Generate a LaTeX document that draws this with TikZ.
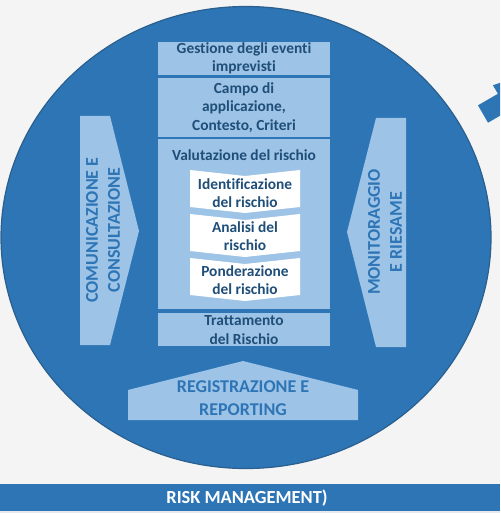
\documentclass[tikz,border=0pt]{standalone}
\usepackage{fontspec}
\setmainfont{Carlito}[Ligatures={NoCommon}]
\usetikzlibrary{positioning}
\definecolor{cerchio}{HTML}{2E75B6}
\definecolor{bordo}{HTML}{2A5F8E}
\definecolor{chiaro}{HTML}{9DC3E6}
\definecolor{scuro}{HTML}{1F4E79}
\definecolor{sfondo}{HTML}{F4F4F4}
\definecolor{striscia}{HTML}{E6E9ED}
\begin{document}
\begin{tikzpicture}[x=0.5pt, y=-0.5pt,
    box/.style={fill=chiaro},
    fase/.style={fill=white},
    boxtext/.style={text=scuro, font=\bfseries\fontsize{7.7}{9.2}\selectfont, align=center, inner sep=0pt},
    sidetext/.style={text=cerchio, font=\bfseries\fontsize{9}{11}\selectfont, align=center, inner sep=0pt}]
    \useasboundingbox (0,0) rectangle (500,513);
    \fill[sfondo] (0,0) rectangle (500,513);
    \begin{scope}
        \clip (0,0) rectangle (500,513);
        % freccia tagliata in alto a destra
        \fill[cerchio] (478,105.3) -- (497.9,93.8) -- (492.9,85.2) -- (527,74)
            -- (512.9,119.8) -- (507.9,111.2) -- (488,122.7) -- cycle;
    \end{scope}
    \filldraw[fill=cerchio, draw=bordo, line width=0.6pt] (246,237.5) ellipse [x radius=245, y radius=231];

    % frecce laterali
    \fill[box] (80,116) -- (110,116) -- (139,231) -- (110,345) -- (80,345) -- cycle;
    \fill[box] (406,118) -- (376,118) -- (347,232) -- (376,347) -- (406,347) -- cycle;
    \fill[box] (128,420) -- (128,390) -- (243,361) -- (358,390) -- (358,420) -- cycle;

    % colonna centrale
    \fill[box] (158,42) rectangle (330,75);
    \fill[box] (158,78) rectangle (330,137);
    \fill[box] (158,139) rectangle (330,309);
    \fill[box] (158,313) rectangle (330,346);
    \fill[fase] (190,170) -- (245,176) -- (300,170) -- (300,207) -- (245,213) -- (190,207) -- cycle;
    \fill[fase] (190,214) -- (245,220) -- (300,214) -- (300,251) -- (245,257) -- (190,251) -- cycle;
    \fill[fase] (190,258) -- (245,264) -- (300,258) -- (300,295) -- (245,301) -- (190,295) -- cycle;

    \node[boxtext] (gestione) at (244,58.5) {Gestione degli eventi\\imprevisti};
    \node[boxtext] (campo) at (244,107.5) {Campo di\\applicazione,\\Contesto, Criteri};
    \node[boxtext] (valutazione) at (244,155) {Valutazione del rischio};
    \node[boxtext] (identificazione) at (245,193) {Identificazione\\del rischio};
    \node[boxtext] (analisi) at (245,236) {Analisi del\\rischio};
    \node[boxtext] (ponderazione) at (245,280) {Ponderazione\\del rischio};
    \node[boxtext] (trattamento) at (244,330) {Trattamento\\del Rischio};

    \node[sidetext, rotate=90] (comunicazione) at (103,230) {COMUNICAZIONE E\\CONSULTAZIONE};
    \node[sidetext, rotate=90] (monitoraggio) at (385,232) {MONITORAGGIO\\E RIESAME};
    \node[sidetext, font=\bfseries\fontsize{9}{11.5}\selectfont] (registrazione) at (243,398.5) {REGISTRAZIONE E\\REPORTING};

    % barra in basso
    \fill[cerchio] (0,484) rectangle (500,511);
    \fill[striscia] (0,511) rectangle (500,513);
    \node[text=white, font=\bfseries\fontsize{9.2}{10}\selectfont, inner sep=0pt] (risk) at (247,498) {RISK MANAGEMENT)};
\end{tikzpicture}
\end{document}
